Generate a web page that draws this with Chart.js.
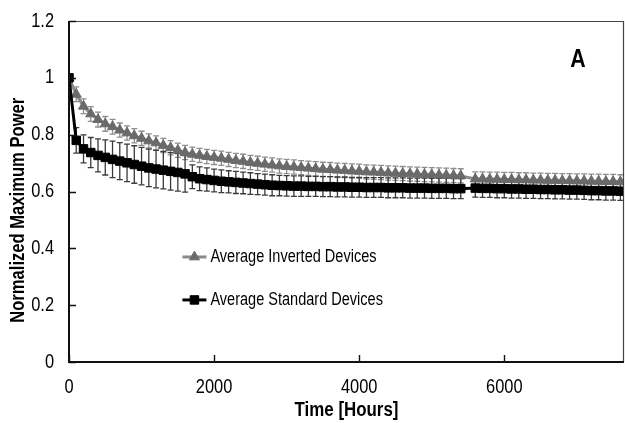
<!DOCTYPE html>
<html>
<head>
<meta charset="utf-8">
<script src="https://cdn.jsdelivr.net/npm/chart.js@4/dist/chart.umd.min.js"></script>
<style>
  html, body { margin: 0; padding: 0; background: #fff; }
  #wrap { width: 625px; height: 423px; position: relative; }
</style>
</head>
<body>
<div id="wrap"><canvas id="c" width="625" height="423"></canvas></div>
<script>
// Elapsed time of each measurement (hours); no reading was taken at 5500 h
const hours = [0,100,200,300,400,500,600,700,800,900,1000,1100,1200,1300,1400,1500,1600,1700,1800,1900,
  2000,2100,2200,2300,2400,2500,2600,2700,2800,2900,3000,3100,3200,3300,3400,3500,3600,3700,3800,3900,
  4000,4100,4200,4300,4400,4500,4600,4700,4800,4900,5000,5100,5200,5300,5400,5600,5700,5800,5900,
  6000,6100,6200,6300,6400,6500,6600,6700,6800,6900,7000,7100,7200,7300,7400,7500,7600];

// Normalized maximum power, inverted architecture (mean of devices)
const invertedMean = [1.000,0.942,0.900,0.873,0.853,0.838,0.828,0.816,0.806,0.796,0.787,0.778,0.771,0.762,0.754,0.745,0.737,0.731,0.727,0.723,
  0.720,0.717,0.713,0.709,0.706,0.702,0.699,0.696,0.693,0.690,0.688,0.686,0.684,0.682,0.680,0.678,0.677,0.675,0.674,0.672,
  0.671,0.669,0.668,0.667,0.665,0.664,0.663,0.662,0.661,0.660,0.659,0.658,0.657,0.656,0.655,0.644,0.644,0.643,0.643,
  0.642,0.642,0.641,0.641,0.640,0.640,0.639,0.639,0.638,0.638,0.637,0.637,0.636,0.636,0.635,0.635,0.634];
const invertedErr = [0,0.026,0.026,0.026,0.026,0.026,0.026,0.025,0.025,0.025,0.025,0.025,0.025,0.025,0.025,0.025,0.025,0.025,0.025,0.025,
  0.025,0.025,0.025,0.025,0.025,0.025,0.025,0.025,0.025,0.025,0.025,0.025,0.025,0.025,0.025,0.025,0.025,0.025,0.025,0.025,
  0.025,0.025,0.025,0.025,0.025,0.025,0.025,0.025,0.025,0.025,0.025,0.025,0.025,0.025,0.025,0.025,0.025,0.025,0.025,
  0.025,0.025,0.025,0.025,0.025,0.025,0.025,0.025,0.025,0.025,0.025,0.025,0.025,0.025,0.025,0.025,0.025];

// Normalized maximum power, standard architecture (mean of devices)
const standardMean = [1.000,0.780,0.750,0.737,0.727,0.720,0.713,0.707,0.701,0.695,0.689,0.683,0.679,0.675,0.671,0.667,0.662,0.652,0.645,0.642,
  0.639,0.636,0.634,0.632,0.630,0.628,0.626,0.624,0.622,0.621,0.620,0.619,0.619,0.618,0.618,0.617,0.617,0.616,0.616,0.615,
  0.615,0.614,0.614,0.614,0.613,0.613,0.613,0.612,0.612,0.612,0.611,0.611,0.611,0.610,0.610,0.612,0.611,0.611,0.610,
  0.610,0.609,0.609,0.608,0.608,0.607,0.607,0.606,0.606,0.605,0.605,0.604,0.603,0.603,0.602,0.602,0.601];
const standardErr = [0,0.045,0.049,0.053,0.058,0.062,0.064,0.065,0.066,0.066,0.066,0.066,0.066,0.066,0.066,0.066,0.064,0.042,0.042,0.041,
  0.040,0.040,0.039,0.039,0.038,0.038,0.037,0.037,0.037,0.036,0.036,0.036,0.036,0.035,0.035,0.035,0.035,0.035,0.035,0.035,
  0.035,0.035,0.035,0.035,0.035,0.035,0.035,0.035,0.035,0.035,0.035,0.035,0.035,0.035,0.035,0.032,0.032,0.032,0.032,
  0.032,0.032,0.032,0.032,0.032,0.032,0.032,0.032,0.032,0.032,0.032,0.032,0.032,0.032,0.032,0.032,0.032];

const seriesLabels = ['Average Inverted Devices', 'Average Standard Devices'];
const xTicks = [0, 2000, 4000, 6000];
const yTicks = [0, 0.2, 0.4, 0.6, 0.8, 1, 1.2];
const yTickLabels = ['0', '0.2', '0.4', '0.6', '0.8', '1', '1.2'];
const xTickLabels = ['0', '2000', '4000', '6000'];
const panelLetter = 'A';
const xTitle = 'Time [Hours]';
const yTitle = 'Normalized Maximum Power';

const FONT = "'Liberation Sans', Arial, sans-serif";

const toPoints = (ys) => hours.map((h, i) => ({ x: h, y: ys[i] }));

// Text in a condensed face: the regular sans squeezed horizontally
function condensedText(ctx, text, x, y, font, align, squeeze, rotate) {
  ctx.save();
  ctx.translate(x, y);
  if (rotate) ctx.rotate(rotate);
  ctx.scale(squeeze, 1);
  ctx.font = font;
  ctx.fillStyle = '#000';
  ctx.textAlign = align;
  ctx.textBaseline = 'middle';
  ctx.fillText(text, 0, 0);
  ctx.restore();
}

// Vertical error bars with caps, drawn under the markers
const errorBars = {
  id: 'errorBars',
  beforeDatasetsDraw(chart) {
    const { ctx, scales: { x, y } } = chart;
    chart.data.datasets.forEach((ds) => {
      ctx.save();
      ctx.strokeStyle = ds.errorColor;
      ctx.lineWidth = 1.3;
      ds.data.forEach((p, i) => {
        const e = ds.errors[i];
        if (!e) return;
        const px = x.getPixelForValue(p.x);
        const yt = y.getPixelForValue(p.y + e);
        const yb = y.getPixelForValue(p.y - e);
        ctx.beginPath();
        ctx.moveTo(px, yt); ctx.lineTo(px, yb);
        ctx.moveTo(px - 3, yt); ctx.lineTo(px + 3, yt);
        ctx.moveTo(px - 3, yb); ctx.lineTo(px + 3, yb);
        ctx.stroke();
      });
      ctx.restore();
    });
  }
};

// Frame, inward ticks, tick labels, axis titles, legend and panel letter
const decorations = {
  id: 'decorations',
  afterDraw(chart) {
    const { ctx, chartArea: a, scales: { x, y } } = chart;
    ctx.save();
    // frame: darker axes, lighter top/right edges
    ctx.lineWidth = 1.2;
    ctx.strokeStyle = '#444';
    ctx.beginPath();
    ctx.moveTo(a.left, a.top + 0.5); ctx.lineTo(a.right - 0.5, a.top + 0.5); ctx.lineTo(a.right - 0.5, a.bottom);
    ctx.stroke();
    ctx.lineWidth = 2;
    ctx.strokeStyle = '#111';
    ctx.beginPath();
    ctx.moveTo(a.left, a.top); ctx.lineTo(a.left, a.bottom); ctx.lineTo(a.right, a.bottom);
    ctx.stroke();
    // inward ticks
    ctx.lineWidth = 1.4;
    ctx.beginPath();
    xTicks.forEach(v => {
      const px = Math.round(x.getPixelForValue(v)) + 0.5;
      ctx.moveTo(px, a.bottom); ctx.lineTo(px, a.bottom - 7);
    });
    yTicks.forEach(v => {
      const py = Math.round(y.getPixelForValue(v)) + 0.5;
      ctx.moveTo(a.left, py); ctx.lineTo(a.left + 7, py);
    });
    ctx.stroke();
    ctx.restore();

    // tick labels
    const tickFont = "20px " + FONT;
    yTicks.forEach((v, i) => {
      condensedText(ctx, yTickLabels[i], a.left - 15, y.getPixelForValue(v), tickFont, 'right', 0.82);
    });
    xTicks.forEach((v, i) => {
      condensedText(ctx, xTickLabels[i], x.getPixelForValue(v), a.bottom + 25, tickFont, 'center', 0.82);
    });

    // axis titles
    const titleFont = "bold 20px " + FONT;
    condensedText(ctx, xTitle, (a.left + a.right) / 2, a.bottom + 48, titleFont, 'center', 0.845);
    condensedText(ctx, yTitle, 18, a.top + (a.bottom - a.top) * 0.555, titleFont, 'center', 0.83, -Math.PI / 2);

    // legend inside the plot
    const lx = a.left + (a.right - a.left) * 0.226;
    const rows = [a.top + (a.bottom - a.top) * 0.692, a.top + (a.bottom - a.top) * 0.818];
    chart.data.datasets.forEach((ds, i) => {
      const ly = rows[i];
      ctx.save();
      ctx.strokeStyle = ds.borderColor;
      ctx.lineWidth = 3;
      ctx.beginPath();
      ctx.moveTo(lx - 12, ly); ctx.lineTo(lx + 12, ly);
      ctx.stroke();
      ctx.fillStyle = ds.pointBackgroundColor;
      ctx.strokeStyle = ds.pointBorderColor;
      ctx.lineWidth = 1;
      Chart.helpers.drawPoint(ctx, { pointStyle: ds.pointStyle, radius: ds.pointRadius, borderWidth: 1 }, lx, ly);
      ctx.restore();
      condensedText(ctx, ds.label, lx + 16, ly, "17.5px " + FONT, 'left', 0.83);
    });

    // panel letter
    condensedText(ctx, panelLetter, a.left + (a.right - a.left) * 0.917, a.top + (a.bottom - a.top) * 0.115,
      "bold 26px " + FONT, 'center', 0.82);
  }
};

new Chart(document.getElementById('c'), {
  type: 'line',
  data: {
    datasets: [
      {
        label: seriesLabels[0],
        data: toPoints(invertedMean),
        errors: invertedErr,
        errorColor: '#8e8e8e',
        borderColor: '#8a8a8a',
        borderWidth: 3,
        pointStyle: 'triangle',
        pointRadius: 5.8,
        pointBackgroundColor: '#6a6a6a',
        pointBorderColor: '#6a6a6a',
        pointBorderWidth: 1,
        order: 2
      },
      {
        label: seriesLabels[1],
        data: toPoints(standardMean),
        errors: standardErr,
        errorColor: '#3a3a3a',
        borderColor: '#000',
        borderWidth: 3,
        pointStyle: 'rect',
        pointRadius: 6,
        pointBackgroundColor: '#000',
        pointBorderColor: '#000',
        pointBorderWidth: 1,
        order: 1
      }
    ]
  },
  options: {
    responsive: false,
    animation: false,
    devicePixelRatio: 1,
    layout: { autoPadding: false, padding: { top: 21, right: 1, left: 0, bottom: 0 } },
    plugins: { legend: { display: false }, tooltip: { enabled: false } },
    elements: { line: { tension: 0 } },
    scales: {
      x: {
        type: 'linear',
        min: 0, max: 7650,
        afterBuildTicks: (s) => { s.ticks = xTicks.map(v => ({ value: v })); },
        afterFit: (s) => { s.height = 61; },
        grid: { display: false, drawTicks: false },
        border: { display: false },
        ticks: { display: false }
      },
      y: {
        min: 0, max: 1.2,
        afterBuildTicks: (s) => { s.ticks = yTicks.map(v => ({ value: v })); },
        afterFit: (s) => { s.width = 69; },
        grid: { display: false, drawTicks: false },
        border: { display: false },
        ticks: { display: false }
      }
    }
  },
  plugins: [errorBars, decorations]
});
</script>
</body>
</html>
